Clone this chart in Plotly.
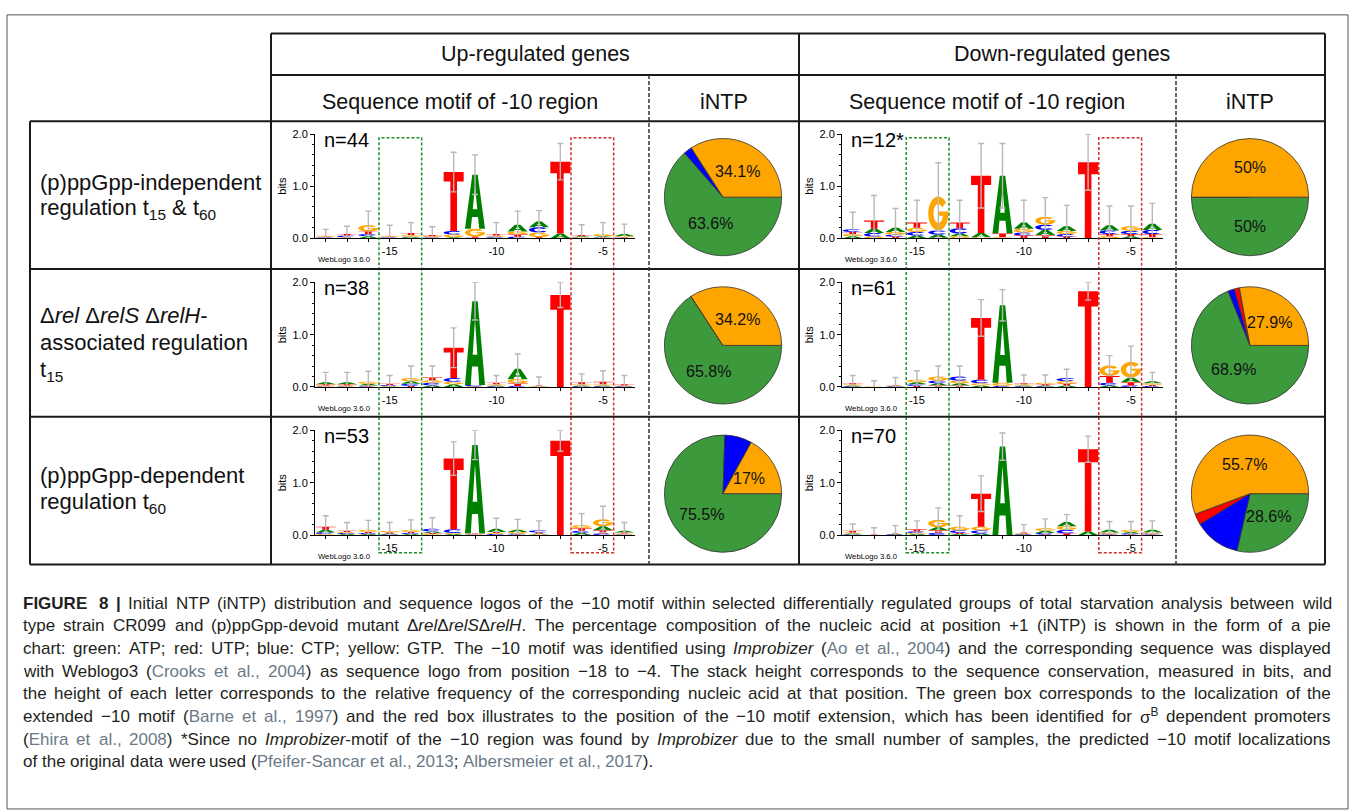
import math
import plotly.graph_objects as go

W, H = 1355, 812

# ------------------------------------------------------------------ data
POSITIONS = list(range(-18, -3))            # -18 .. -4
LABELED_POSITIONS = [-15, -10, -5]

# information content (bits) per letter and position, read from the logos
A_up1 = [0.01, 0.01, 0.04, 0.01, 0.02, 0.01, 0.02, 1.04, 0.01, 0.13, 0.11, 0.09, 0.02, 0.02, 0.04]
C_up1 = [0.01, 0.03, 0.04, 0.01, 0.01, 0.01, 0.07, 0.01, 0.02, 0.03, 0.10, 0.00, 0.01, 0.01, 0.01]
G_up1 = [0.02, 0.01, 0.12, 0.02, 0.03, 0.02, 0.05, 0.15, 0.02, 0.06, 0.09, 0.00, 0.01, 0.04, 0.02]
T_up1 = [0.01, 0.03, 0.05, 0.01, 0.04, 0.02, 1.13, 0.02, 0.03, 0.04, 0.02, 1.38, 0.02, 0.01, 0.01]
err_up1 = [0.12, 0.15, 0.27, 0.20, 0.20, 0.16, 0.38, 0.38, 0.22, 0.26, 0.21, 0.35, 0.20, 0.22, 0.19]

A_down1 = [0.04, 0.08, 0.08, 0.05, 0.06, 0.05, 0.08, 1.11, 0.12, 0.10, 0.09, 0.00, 0.10, 0.04, 0.12]
C_down1 = [0.05, 0.07, 0.04, 0.07, 0.08, 0.10, 0.01, 0.00, 0.06, 0.10, 0.05, 0.00, 0.07, 0.06, 0.08]
G_down1 = [0.04, 0.03, 0.05, 0.08, 0.65, 0.04, 0.01, 0.02, 0.07, 0.15, 0.06, 0.00, 0.04, 0.09, 0.02]
T_down1 = [0.04, 0.16, 0.03, 0.10, 0.01, 0.11, 1.10, 0.07, 0.05, 0.06, 0.03, 1.46, 0.04, 0.04, 0.06]
err_down1 = [0.33, 0.48, 0.37, 0.43, 0.65, 0.43, 0.62, 0.62, 0.43, 0.37, 0.40, 0.54, 0.37, 0.39, 0.39]

A_up2 = [0.04, 0.04, 0.03, 0.01, 0.05, 0.03, 0.05, 1.60, 0.02, 0.20, 0.01, 0.00, 0.02, 0.02, 0.01]
C_up2 = [0.01, 0.01, 0.01, 0.02, 0.04, 0.05, 0.07, 0.03, 0.01, 0.02, 0.00, 0.00, 0.01, 0.01, 0.01]
G_up2 = [0.02, 0.02, 0.04, 0.01, 0.06, 0.05, 0.05, 0.01, 0.02, 0.08, 0.01, 0.00, 0.02, 0.02, 0.01]
T_up2 = [0.02, 0.02, 0.02, 0.02, 0.02, 0.05, 0.58, 0.00, 0.03, 0.05, 0.01, 1.76, 0.04, 0.05, 0.02]
err_up2 = [0.19, 0.19, 0.20, 0.16, 0.23, 0.22, 0.38, 0.36, 0.14, 0.28, 0.16, 0.24, 0.16, 0.21, 0.17]

A_down2 = [0.02, 0.00, 0.01, 0.04, 0.04, 0.04, 0.03, 1.48, 0.02, 0.02, 0.03, 0.00, 0.03, 0.09, 0.04]
C_down2 = [0.01, 0.00, 0.01, 0.03, 0.05, 0.08, 0.07, 0.02, 0.01, 0.01, 0.06, 0.00, 0.05, 0.03, 0.02]
G_down2 = [0.02, 0.01, 0.01, 0.05, 0.08, 0.05, 0.04, 0.06, 0.02, 0.03, 0.05, 0.00, 0.20, 0.30, 0.03]
T_down2 = [0.02, 0.00, 0.01, 0.02, 0.03, 0.03, 1.18, 0.00, 0.02, 0.02, 0.03, 1.83, 0.13, 0.06, 0.02]
err_down2 = [0.15, 0.11, 0.14, 0.17, 0.20, 0.20, 0.35, 0.30, 0.16, 0.15, 0.17, 0.17, 0.19, 0.30, 0.17]

A_up3 = [0.05, 0.02, 0.02, 0.02, 0.02, 0.03, 0.02, 1.69, 0.06, 0.04, 0.02, 0.00, 0.04, 0.08, 0.03]
C_up3 = [0.03, 0.02, 0.02, 0.01, 0.02, 0.05, 0.07, 0.01, 0.02, 0.02, 0.04, 0.00, 0.04, 0.03, 0.01]
G_up3 = [0.02, 0.02, 0.04, 0.03, 0.04, 0.02, 0.02, 0.01, 0.02, 0.03, 0.01, 0.00, 0.06, 0.13, 0.02]
T_up3 = [0.06, 0.02, 0.02, 0.02, 0.02, 0.02, 1.35, 0.01, 0.02, 0.01, 0.02, 1.80, 0.05, 0.06, 0.02]
err_up3 = [0.21, 0.16, 0.18, 0.16, 0.19, 0.21, 0.32, 0.28, 0.20, 0.20, 0.18, 0.20, 0.22, 0.25, 0.16]

A_down3 = [0.02, 0.00, 0.01, 0.02, 0.06, 0.02, 0.03, 1.69, 0.01, 0.04, 0.08, 0.07, 0.05, 0.03, 0.05]
C_down3 = [0.01, 0.00, 0.01, 0.03, 0.04, 0.05, 0.06, 0.00, 0.01, 0.03, 0.07, 0.00, 0.02, 0.02, 0.02]
G_down3 = [0.02, 0.00, 0.00, 0.02, 0.14, 0.07, 0.07, 0.00, 0.01, 0.05, 0.07, 0.00, 0.02, 0.04, 0.02]
T_down3 = [0.03, 0.01, 0.01, 0.04, 0.05, 0.02, 0.63, 0.00, 0.02, 0.01, 0.03, 1.57, 0.01, 0.01, 0.01]
err_down3 = [0.13, 0.13, 0.15, 0.16, 0.23, 0.21, 0.34, 0.26, 0.15, 0.18, 0.14, 0.25, 0.16, 0.16, 0.17]

N_LABELS = ["n=44", "n=12*", "n=38", "n=61", "n=53", "n=70"]

# initial NTP composition (%), order: ATP, CTP, UTP, GTP
INTP_LABELS = ["ATP", "CTP", "UTP", "GTP"]
intp_up1 = [63.6, 2.3, 0.0, 34.1]
intp_down1 = [50.0, 0.0, 0.0, 50.0]
intp_up2 = [65.8, 0.0, 0.0, 34.2]
intp_down2 = [68.9, 1.8, 1.4, 27.9]
intp_up3 = [75.5, 7.5, 0.0, 17.0]
intp_down3 = [28.6, 12.7, 3.0, 55.7]
LABELED_NTPS = ["ATP", "GTP"]

# boxes (position ranges) for extended -10 motif and -10 extension
GREEN_BOX = (-15.5, -13.5)
RED_BOX = (-6.5, -4.5)

ROW_LABELS = [
    ["(p)ppGpp-independent", "regulation t<sub>15</sub> &amp; t<sub>60</sub>"],
    ["Δ<i>rel</i> Δ<i>relS</i> Δ<i>relH</i>-", "associated regulation", "t<sub>15</sub>"],
    ["(p)ppGpp-dependent", "regulation t<sub>60</sub>"],
]

CAPTION_LINES = [
    "#FIGURE 8 |# Initial NTP (iNTP) distribution and sequence logos of the −10 motif within selected differentially regulated groups of total starvation analysis between wild",
    "type strain CR099 and (p)ppGpp-devoid mutant Δ~rel~Δ~relS~Δ~relH~. The percentage composition of the nucleic acid at position +1 (iNTP) is shown in the form of a pie",
    "chart: green: ATP; red: UTP; blue: CTP; yellow: GTP. The −10 motif was identified using ~Improbizer~ ({Ao et al., 2004}) and the corresponding sequence was displayed",
    "with Weblogo3 ({Crooks et al., 2004}) as sequence logo from position −18 to −4. The stack height corresponds to the sequence conservation, measured in bits, and",
    "the height of each letter corresponds to the relative frequency of the corresponding nucleic acid at that position. The green box corresponds to the localization of the",
    "extended −10 motif ({Barne et al., 1997}) and the red box illustrates to the position of the −10 motif extension, which has been identified for σ^B dependent promoters",
    "({Ehira et al., 2008}) *Since no ~Improbizer~-motif of the −10 region was found by ~Improbizer~ due to the small number of samples, the predicted −10 motif localizations",
    "of the original data were used ({Pfeifer-Sancar et al., 2013}; {Albersmeier et al., 2017}).",
]

# ------------------------------------------------------------------ styles / geometry
FONT = "Liberation Sans, Arial, Helvetica, sans-serif"
LETTER_COLORS = {"A": "#008000", "C": "#0000FF", "G": "#FFA500", "T": "#FF0000"}
PIE_COLORS = ["#3C9A3C", "#0000FF", "#FF0000", "#FFA500"]
LOGO_X_PX = [(315, 635), (842, 1163)]                       # up / down column
LOGO_Y_PX = [(130, 235.7), (280.5, 386.7), (430.7, 537.0)]  # (2 bits, 0 bits) per row
PIE_CX = [723, 1250]
PIE_CY = [194, 344.5, 495]
PIE_R = 59.5
PIE_ROTATION = 90
LW = 0.94  # letter width in position units


def px(x):
    return x / W


def py(y):
    return 1 - y / H


def arc(cx, cy, rx, ry, a0, a1, n=36):
    pts = []
    for i in range(n + 1):
        a = math.radians(a0 + (a1 - a0) * i / n)
        pts.append((cx + rx * math.cos(a), cy + ry * math.sin(a)))
    return pts


GLYPHS = {
    "T": [[(0, 1), (1, 1), (1, 0.84), (0.665, 0.84), (0.665, 0), (0.335, 0), (0.335, 0.84), (0, 0.84)]],
    "A": [[(0, 0), (0.29, 0), (0.35, 0.22), (0.65, 0.22), (0.71, 0), (1, 0), (0.635, 1), (0.365, 1)],
          [(0.385, 0.36), (0.5, 0.78), (0.615, 0.36)]],
    "C": [arc(0.5, 0.5, 0.5, 0.5, 40, 320) + arc(0.5, 0.5, 0.24, 0.28, 320, 40)],
    "G": [arc(0.5, 0.5, 0.5, 0.5, 40, 350)
          + [(1.0, 0.413), (1.0, 0.56), (0.53, 0.56), (0.53, 0.43), (0.74, 0.43)]
          + arc(0.5, 0.5, 0.24, 0.28, 335, 40)],
}

LOGOS = [
    dict(A=A_up1, C=C_up1, G=G_up1, T=T_up1, err=err_up1),
    dict(A=A_down1, C=C_down1, G=G_down1, T=T_down1, err=err_down1),
    dict(A=A_up2, C=C_up2, G=G_up2, T=T_up2, err=err_up2),
    dict(A=A_down2, C=C_down2, G=G_down2, T=T_down2, err=err_down2),
    dict(A=A_up3, C=C_up3, G=G_up3, T=T_up3, err=err_up3),
    dict(A=A_down3, C=C_down3, G=G_down3, T=T_down3, err=err_down3),
]
PIES = [intp_up1, intp_down1, intp_up2, intp_down2, intp_up3, intp_down3]

fig = go.Figure()
layout_axes = {}
annotations = []
shapes = []

for li, lg in enumerate(LOGOS):
    row, col = li // 2, li % 2
    sfx = "" if li == 0 else str(li + 1)
    xd = [px(LOGO_X_PX[col][0]), px(LOGO_X_PX[col][1])]
    yd = [py(LOGO_Y_PX[row][1]), py(LOGO_Y_PX[row][0])]
    xs = {L: [] for L in "ACGT"}
    ys = {L: [] for L in "ACGT"}
    for k, p in enumerate(POSITIONS):
        stack = sorted([(lg[L][k], L) for L in "ACGT" if lg[L][k] > 0])
        base = 0.0
        for h, L in stack:
            for poly in GLYPHS[L]:
                for u, v in poly:
                    xs[L].append(p - LW / 2 + u * LW)
                    ys[L].append(base + v * h)
                xs[L].append(None)
                ys[L].append(None)
            base += h
    for L in "ACGT":
        fig.add_trace(go.Scatter(
            x=xs[L], y=ys[L], mode="lines", fill="toself", fillcolor=LETTER_COLORS[L],
            line=dict(width=0, color=LETTER_COLORS[L], simplify=False),
            hoverinfo="skip", showlegend=False, xaxis="x" + sfx, yaxis="y" + sfx))
    heights = [sum(lg[L][k] for L in "ACGT") for k in range(len(POSITIONS))]
    fig.add_trace(go.Scatter(
        x=POSITIONS, y=heights, mode="markers",
        marker=dict(size=1, color="rgba(0,0,0,0)"),
        error_y=dict(type="data", array=lg["err"], symmetric=True, color="#b8b8b8",
                     thickness=1.4, width=3),
        hoverinfo="skip", showlegend=False, xaxis="x" + sfx, yaxis="y" + sfx))

    layout_axes["xaxis" + sfx] = dict(
        domain=xd, range=[-18.5, -3.5], anchor="y" + sfx,
        tickmode="array", tickvals=LABELED_POSITIONS,
        ticktext=[str(p) for p in LABELED_POSITIONS],
        ticks="outside", ticklen=3, tickcolor="black", tickwidth=1,
        minor=dict(tickmode="array", tickvals=POSITIONS, ticks="outside", ticklen=3,
                   tickcolor="black", tickwidth=1),
        showline=True, linecolor="black", linewidth=1,
        showgrid=False, zeroline=False, fixedrange=True,
        tickfont=dict(family=FONT, size=11, color="black"))
    layout_axes["yaxis" + sfx] = dict(
        domain=yd, range=[0, 2], anchor="x" + sfx,
        tickmode="array", tickvals=[0, 1, 2], ticktext=["0.0", "1.0", "2.0"],
        ticks="outside", ticklen=4, tickcolor="black", tickwidth=1,
        minor=dict(tickmode="linear", tick0=0, dtick=0.2, ticks="outside",
                   ticklen=2, tickcolor="black"),
        showline=True, linecolor="black", linewidth=1,
        showgrid=False, zeroline=False, fixedrange=True,
        tickfont=dict(family=FONT, size=11, color="black"),
        title=dict(text="bits", font=dict(family=FONT, size=11, color="black"), standoff=3))

    # n= label and WebLogo tag
    x0px = LOGO_X_PX[col][0]
    ytop = LOGO_Y_PX[row][0]
    annotations.append(dict(text=N_LABELS[li], x=px(x0px + 7), y=py(ytop + 6),
                            xref="paper", yref="paper", xanchor="left", yanchor="middle",
                            showarrow=False, font=dict(family=FONT, size=20, color="black")))
    annotations.append(dict(text="WebLogo 3.6.0", x=px(x0px + 1), y=py(LOGO_Y_PX[row][1] + 22),
                            xref="paper", yref="paper", xanchor="left", yanchor="middle",
                            showarrow=False, font=dict(family=FONT, size=7.7, color="black")))

    # pie chart (clockwise from 3 o'clock: ATP, CTP, UTP, GTP)
    vals = PIES[li]
    cx, cy = PIE_CX[col], PIE_CY[row]
    fig.add_trace(go.Pie(
        values=vals, labels=INTP_LABELS, sort=False, direction="clockwise",
        rotation=PIE_ROTATION,
        marker=dict(colors=PIE_COLORS, line=dict(color="#333333", width=0.8)),
        textinfo="none",
        domain=dict(x=[px(cx - PIE_R), px(cx + PIE_R)], y=[py(cy + PIE_R), py(cy - PIE_R)]),
        showlegend=False, hoverinfo="skip"))
    # percentage labels at slice mid-angles
    total = float(sum(vals))
    ang = PIE_ROTATION
    for lab, v in zip(INTP_LABELS, vals):
        mid = ang + 360.0 * v / total / 2
        ang += 360.0 * v / total
        if lab in LABELED_NTPS and v > 0:
            r = 0.5 * PIE_R
            tx = cx + r * math.sin(math.radians(mid))
            ty = cy - r * math.cos(math.radians(mid))
            annotations.append(dict(text="%g%%" % v, x=px(tx), y=py(ty), xref="paper",
                                    yref="paper", xanchor="center", yanchor="middle",
                                    showarrow=False,
                                    font=dict(family=FONT, size=16, color="#111111")))


def yaxis_to_paper(row, val):
    top, bot = LOGO_Y_PX[row]
    return py(bot - (bot - top) * val / 2.0)


# dashed boxes spanning all three rows (x in data coordinates of the logo axes)
for col, xref in ((0, "x"), (1, "x2")):
    for (b0, b1), colr in ((GREEN_BOX, "#1f8f2a"), (RED_BOX, "#d0302a")):
        shapes.append(dict(type="rect", xref=xref, yref="paper", x0=b0, x1=b1,
                           y0=yaxis_to_paper(2, -0.34), y1=yaxis_to_paper(0, 1.93),
                           line=dict(color=colr, width=1.5, dash="3px,2px"),
                           fillcolor="rgba(0,0,0,0)"))

# table lines
TL = "#1a1a1a"
for (x0, y0, x1, y1) in [
        (271, 28, 1325, 28), (271, 70, 1325, 70), (30, 117, 1325, 117),
        (30, 267, 1325, 267), (30, 417, 1325, 417), (30, 567, 1325, 567),
        (271, 28, 271, 567), (30, 117, 30, 567), (799, 28, 799, 567), (1325, 28, 1325, 567)]:
    shapes.append(dict(type="line", xref="paper", yref="paper", x0=px(x0), y0=py(y0),
                       x1=px(x1), y1=py(y1), line=dict(color=TL, width=2)))
for xv in (649, 1176):
    shapes.append(dict(type="line", xref="paper", yref="paper", x0=px(xv), y0=py(70),
                       x1=px(xv), y1=py(567), line=dict(color="#333333", width=1.5, dash="4px,2px")))
# outer frame
shapes.append(dict(type="rect", xref="paper", yref="paper", x0=px(7), y0=py(815), x1=px(1348),
                   y1=py(9), line=dict(color="#555555", width=1), fillcolor="rgba(0,0,0,0)"))


def txt(text, x, y, size, xanchor="center"):
    annotations.append(dict(text=text, x=px(x), y=py(y), xref="paper", yref="paper",
                            xanchor=xanchor, yanchor="middle", showarrow=False,
                            borderpad=0, font=dict(family=FONT, size=size, color="#111111")))


HDR = 21.5
txt("Up-regulated genes", 535, 49, HDR)
txt("Down-regulated genes", 1062, 49, HDR)
txt("Sequence motif of -10 region", 460, 97, HDR)
txt("iNTP", 724, 97, HDR)
txt("Sequence motif of -10 region", 987, 97, HDR)
txt("iNTP", 1250, 97, HDR)

ROW_LINE_Y = [[179, 206], [314, 342, 370], [477, 504]]
for r, lines in enumerate(ROW_LABELS):
    for t, yv in zip(lines, ROW_LINE_Y[r]):
        txt(t, 39, yv, 22, xanchor="left")

# ------------------------------------------------------------------ caption (justified)
AW = {" ": 278, "!": 278, "%": 889, "&": 667, "(": 333, ")": 333, "*": 389, "+": 584,
      ",": 278, "-": 333, ".": 278, "/": 278, ":": 278, ";": 278, "|": 280,
      "−": 584, "Δ": 668, "σ": 577}
for d in "0123456789":
    AW[d] = 556
AW.update(dict(A=667, B=667, C=722, D=722, E=667, F=611, G=778, H=722, I=278, J=500, K=667,
               L=556, M=833, N=722, O=778, P=667, Q=778, R=722, S=667, T=611, U=722, V=667,
               W=944, X=667, Y=667, Z=611))
AW.update(dict(a=556, b=556, c=500, d=556, e=556, f=278, g=556, h=556, i=222, j=222, k=500,
               l=222, m=833, n=556, o=556, p=556, q=556, r=333, s=500, t=278, u=556, v=500,
               w=722, x=500, y=500, z=500))
CITE = "#6b7a88"


def parse_caption(line):
    words = []
    bold = ital = gray = sup = False
    runs, width = [], 0.0

    def flush():
        nonlocal runs, width
        if runs:
            html = ""
            for (b, i, g, s), t in runs:
                seg = t
                if s:
                    seg = "<sup>" + seg + "</sup>"
                if i:
                    seg = "<i>" + seg + "</i>"
                if b:
                    seg = "<b>" + seg + "</b>"
                if g:
                    seg = "<span style='color:%s'>" % CITE + seg + "</span>"
                html += seg
            words.append((html, width / 1000.0))
        runs, width = [], 0.0

    for ch in line:
        if ch == "#":
            bold = not bold
            continue
        if ch == "~":
            ital = not ital
            continue
        if ch == "{":
            gray = True
            continue
        if ch == "}":
            gray = False
            continue
        if ch == "^":
            sup = True
            continue
        if ch == " ":
            flush()
            continue
        st = (bold, ital, gray, sup)
        if runs and runs[-1][0] == st:
            runs[-1] = (st, runs[-1][1] + ch)
        else:
            runs.append((st, ch))
        width += AW.get(ch, 556) * (0.7 if sup else 1.0) * (1.06 if bold else 1.0)
        sup = False
    flush()
    return words


CAP_X0, CAP_X1 = 23, 1331
CAP_Y0, CAP_DY = 606, 23
parsed = [parse_caption(l) for l in CAPTION_LINES]
span = CAP_X1 - CAP_X0
cap_size = min(17.0, min(span / (sum(w for _, w in ws) + 0.2 * (len(ws) - 1)) for ws in parsed[:-1]))
for li, ws in enumerate(parsed):
    nat = sum(w for _, w in ws) * cap_size
    if li < len(parsed) - 1:
        gap = (span - nat) / (len(ws) - 1)
    else:
        gap = 0.278 * cap_size
    x = CAP_X0
    for html, w in ws:
        annotations.append(dict(text=html, x=px(x), y=py(CAP_Y0 + li * CAP_DY), xref="paper",
                                yref="paper", xanchor="left", yanchor="middle", showarrow=False,
                                borderpad=0, borderwidth=0,
                                font=dict(family=FONT, size=cap_size, color="#231f20")))
        x += w * cap_size + gap

fig.update_layout(
    width=W, height=H, margin=dict(l=0, r=0, t=0, b=0),
    paper_bgcolor="white", plot_bgcolor="white",
    font=dict(family=FONT, color="black"),
    showlegend=False, annotations=annotations, shapes=shapes, **layout_axes)

fig.write_html("out.html", include_plotlyjs=True, config={"displayModeBar": False},
               post_script="document.body.style.margin='0';")
